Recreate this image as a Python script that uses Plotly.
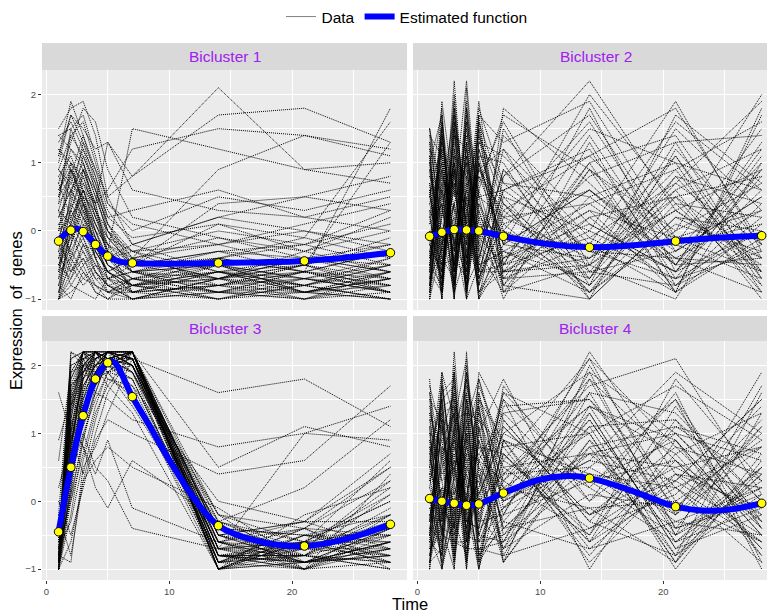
import plotly.graph_objects as go

# ---------------- data ----------------
time_points = [1, 2, 3, 4, 5, 7, 14, 21, 28]
panel_titles = ["Bicluster 1", "Bicluster 2", "Bicluster 3", "Bicluster 4"]

genes_b1 = [
    [-1.0, 0.2, 0.5, -0.3, -0.6, -0.9, -0.8, -0.7, -0.9],
    [0.5, 1.2, 1.0, 0.3, -0.2, -0.5, -0.4, -0.6, -0.3],
    [1.3, 1.6, 1.2, 0.6, 0.1, -0.3, -0.2, 0.1, 0.4],
    [-0.5, -0.2, 0.3, 0.0, -0.4, -0.7, -0.9, -0.8, -1.0],
    [0.0, 0.8, 1.4, 0.9, 0.3, -0.2, -0.6, -0.5, -0.7],
    [-0.8, -1.0, -0.6, -0.8, -0.9, -1.0, -0.7, -0.9, -0.8],
    [1.5, 1.8, 1.9, 1.4, 0.5, 0.8, 2.1, 0.9, 1.0],
    [0.3, 0.1, -0.2, -0.5, -0.7, -0.6, -0.3, -0.2, 0.1],
    [-0.3, 0.5, 0.2, -0.4, -0.8, -1.0, -0.9, -1.0, -0.9],
    [0.9, 1.4, 1.6, 1.0, 0.4, 0.0, 0.5, 0.3, 0.6],
    [-1.0, -0.6, -0.3, -0.7, -0.9, -0.8, -0.6, -0.7, -0.5],
    [0.6, 0.9, 0.4, 0.0, -0.5, -0.7, -0.8, -0.5, -0.2],
    [-0.2, 0.3, 0.8, 0.2, -0.3, -0.6, -0.5, -0.9, -0.6],
    [1.0, 1.7, 1.5, 1.2, 1.3, 0.8, 1.7, 1.8, 1.3],
    [-0.6, -0.4, -0.1, -0.5, -0.6, -0.9, -1.0, -0.8, -1.0],
    [0.2, 0.6, 1.0, 0.5, 0.0, -0.4, 0.9, 1.4, 1.1],
    [-0.9, -0.5, 0.0, -0.2, -0.5, -0.8, -0.7, -0.6, 1.8],
    [0.8, 1.1, 0.6, 0.1, -0.3, 1.5, 1.2, 0.9, 0.7],
    [-0.4, 0.0, -0.3, -0.6, -0.8, -0.9, -0.6, -0.4, -0.7],
    [0.1, -0.3, -0.6, -0.9, -1.0, -1.0, -0.8, -0.9, -0.6],
    [1.2, 1.0, 0.7, 0.2, -0.1, -0.3, 0.0, -0.2, 0.3],
    [-1.0, -0.8, -0.9, -1.0, -0.7, -0.5, -0.3, -0.4, -0.2],
    [0.4, 0.7, 1.2, 0.8, 0.2, 0.3, 0.6, 0.2, 0.0],
    [-0.7, -0.2, 0.4, 0.1, -0.2, -0.6, -0.4, -0.1, -0.4],
    [0.7, 1.3, 1.8, 1.6, 0.9, 0.2, -0.1, -0.4, -0.5],
    [-0.1, 0.4, 0.1, -0.1, -0.4, -0.2, 0.2, 0.0, -0.3],
    [1.4, 1.5, 1.0, 0.5, 0.0, -0.6, -0.5, -0.7, -0.8],
    [-0.5, -0.7, -0.4, -0.8, -1.0, -0.8, -1.0, -0.7, -0.9],
    [0.0, 0.2, 0.6, 0.4, 0.6, 1.2, 1.5, 1.4, 1.2],
    [-0.8, 0.0, -0.5, -0.3, -0.6, -0.4, -0.2, -0.5, -0.1],
    [0.5, 0.8, 0.3, -0.4, -0.9, -0.7, -0.9, -0.6, -0.8],
    [-0.3, -0.1, 0.5, 0.3, -0.1, -0.5, 0.4, 0.5, 0.8],
    [0.9, 0.6, 0.2, -0.2, -0.6, -0.8, -0.7, -1.0, -0.7],
    [-0.6, 0.1, 0.7, 0.4, 1.3, 0.6, 0.3, 0.2, 0.5],
    [1.1, 1.7, 1.3, 0.7, 0.2, -0.1, 0.1, -0.1, 1.6],
    [-1.0, -0.9, -0.7, -0.5, -0.8, -1.0, -0.9, -1.0, -0.6],
    [0.3, 0.9, 0.5, 0.0, -0.2, -0.4, -0.7, -0.3, 0.0],
    [-0.2, -0.5, -0.8, -0.6, -0.9, -0.7, -0.5, -0.8, -0.4],
    [0.6, 1.0, 0.8, 0.3, 0.0, -0.3, -0.6, -0.9, -1.0],
    [-0.4, 0.3, 0.0, -0.4, -0.3, -0.6, -0.8, -0.6, -0.3],
    [-1.0, -0.4, 0.2, -0.1, -0.5, -0.8, -1.0, -0.9, -1.0],
    [0.2, 0.6, 0.9, 0.4, -0.3, -0.9, -0.6, -0.8, -0.5],
    [-0.7, 0.4, 1.1, 0.6, 0.1, -0.4, -0.7, -0.4, -0.6],
    [1.4, 1.2, 0.9, 0.4, -0.4, -0.6, -0.9, -0.7, -0.9],
    [-0.9, -0.3, 0.1, -0.4, -0.7, -0.9, -0.5, -0.9, -0.7],
    [0.5, 1.4, 1.1, 0.7, 0.0, -0.5, -0.3, -0.6, -0.9],
    [-0.1, -0.6, -0.2, -0.3, -0.6, -0.8, -0.9, -0.6, -0.7],
    [0.8, 0.5, 1.3, 0.9, 0.5, -0.2, 0.2, 0.5, 0.3],
    [-0.5, 0.1, 0.6, 0.2, -0.2, -0.9, -0.8, -1.0, -0.8],
    [1.1, 1.9, 1.4, 0.8, 0.1, -0.5, -0.7, -0.4, -0.6],
    [-0.3, -0.8, -0.5, -0.9, -1.0, -0.7, -0.6, -0.8, -0.5],
    [0.0, 1.0, 0.4, -0.3, -0.6, -0.8, -0.4, -0.2, -0.5],
    [-0.8, -0.2, 0.9, 0.3, -0.4, -0.3, -0.8, -0.5, -0.9],
    [0.7, 0.2, -0.1, -0.6, -0.8, -1.0, -0.7, -0.8, -1.0],
    [-0.6, 0.6, 0.3, -0.2, -0.7, -0.6, -0.9, -0.9, -0.7],
    [0.4, 1.5, 1.7, 1.1, 0.4, 0.1, -0.2, 0.0, -0.2],
    [-1.0, -0.7, -0.2, -0.6, -0.8, -0.7, -0.4, -0.6, -0.8],
    [0.9, 0.7, 0.5, -0.1, -0.5, -0.7, -1.0, -0.8, -0.6],
    [-0.2, 0.9, 0.6, 0.0, -0.4, -0.8, -0.5, -0.7, -0.4],
    [0.3, -0.4, -0.7, -0.8, -0.9, -0.9, -0.8, -0.6, -0.9],
    [-0.5, -0.1, 0.4, -0.2, -0.6, -0.4, -0.1, -0.3, -0.6],
    [1.2, 0.9, 0.4, -0.1, -0.7, -0.8, -0.6, -0.9, -0.7],
    [-0.9, 0.0, 0.6, 0.1, -0.3, -0.6, -0.7, -0.5, 1.3],
    [0.1, 0.3, 0.9, 0.6, -0.1, -0.5, 0.1, -0.3, 0.2],
    [-0.4, -0.6, -0.4, -0.7, -0.7, -1.0, -0.7, -0.5, -0.8],
]

genes_b2 = [
    [1.2, -0.8, 1.6, -0.5, 1.0, -0.2, 0.6, -0.4, 0.3],
    [-0.9, 1.5, -0.6, 1.8, -0.7, 0.4, -1.0, 1.2, -0.2],
    [0.3, -1.0, 0.9, -0.9, 1.4, -0.5, 1.8, -0.6, 0.8],
    [-0.5, 0.7, -1.0, 2.1, -0.3, 1.2, -0.8, 0.5, -0.9],
    [0.8, 0.2, 1.9, -0.4, 0.5, -0.9, 0.9, -0.2, 1.5],
    [-0.2, -0.6, 0.4, 1.0, -1.0, 0.8, 2.2, 0.3, -0.5],
    [1.4, 1.1, -0.3, 0.2, 1.9, -0.7, -0.2, 1.6, 0.6],
    [-1.0, 0.3, 1.3, -1.0, 0.7, 1.6, -0.5, -1.0, 1.0],
    [0.5, 1.8, -0.8, 0.6, -0.5, -0.3, 0.4, 0.9, -0.7],
    [-0.7, -0.3, 2.2, -0.2, 1.2, 0.1, -0.9, 0.0, 2.0],
    [0.1, 0.9, 0.0, 1.5, 0.2, -1.0, 1.3, -0.8, 0.2],
    [1.0, -0.5, -0.4, -0.7, 1.6, 0.5, 0.0, 1.9, -0.3],
    [-0.4, 1.3, 0.6, 0.4, -0.8, 1.8, 0.7, -0.5, 1.3],
    [0.7, -0.9, 1.4, 1.2, 0.0, -0.6, -0.4, 0.6, -1.0],
    [-0.8, 0.0, -0.9, -0.3, 0.9, 0.2, 1.6, -0.3, 0.5],
    [1.5, 0.5, 0.7, -0.8, -0.4, 0.9, -0.7, 1.1, -0.6],
    [0.0, -0.7, 1.1, 0.8, -0.9, -0.4, 0.3, -0.9, 1.7],
    [-0.6, 1.6, -0.2, -0.6, 1.1, 1.0, -1.0, 0.2, 0.0],
    [0.4, -0.4, -0.7, 1.7, 0.3, -0.8, 1.0, 1.4, -0.4],
    [-0.3, 0.6, 1.7, 0.0, -0.6, 0.6, -0.3, -0.7, 0.9],
    [0.9, -0.2, 0.2, -0.5, 1.5, -0.2, 2.0, 0.4, -0.8],
    [-1.0, 1.0, -0.5, 0.9, -0.2, 1.4, 0.1, -0.6, 1.1],
    [0.6, -0.6, 0.8, -0.9, 0.4, -0.7, -0.6, 0.8, 0.4],
    [-0.1, 0.4, -1.0, 1.3, -0.7, 0.3, 1.1, -0.1, -0.1],
    [1.1, -1.0, 1.2, 0.1, 0.8, -0.1, -0.8, 1.7, 0.7],
    [-0.9, 0.8, 0.3, -0.2, 1.8, 0.7, 0.5, -0.4, -0.9],
    [0.2, 1.2, -0.6, 0.5, -0.1, -0.5, -0.1, 0.7, 1.9],
    [-0.5, -0.8, 2.0, -0.1, 0.6, 1.7, 0.9, -0.9, 0.1],
    [1.3, 0.1, -0.1, -1.0, -0.5, -0.3, -0.9, 0.1, -0.3],
    [-0.7, 1.9, 0.5, 2.2, 0.1, 0.0, 1.5, 1.0, 0.6],
    [0.0, -0.5, 1.0, -0.4, 1.3, 1.1, -0.2, -0.2, -0.7],
    [0.8, 0.6, -0.9, 0.7, -1.0, -0.4, 0.8, 1.3, 1.4],
    [-0.3, -0.9, 1.5, 0.3, 0.9, 0.4, -0.6, -0.8, -0.2],
    [1.5, 0.3, -0.3, 1.1, -0.3, -0.9, 0.2, 0.5, 0.8],
    [-0.6, 1.4, 0.1, -0.8, 1.7, 1.3, 1.9, -0.1, -0.6],
    [0.5, -0.3, 1.8, 0.2, -0.9, -0.6, -0.5, 1.5, 0.3],
    [-0.8, 0.5, -0.4, 1.6, 0.5, 0.2, 0.4, -0.5, 1.2],
    [0.3, -0.1, 0.4, -0.6, 0.3, -0.8, -1.0, 0.2, -0.4],
    [1.0, 1.7, -0.7, 0.3, -0.6, 0.6, 1.2, -0.7, 0.0],
    [-0.2, -0.7, 0.9, -0.3, 1.0, -0.2, -0.4, 0.9, 1.6],
    [0.9, -0.9, 1.1, -0.7, 1.2, 0.0, -0.5, 0.3, -0.6],
    [-0.8, 1.2, -0.5, 1.3, -0.6, -0.6, 0.2, -0.8, 0.4],
    [1.3, -0.6, 1.5, -0.8, 0.8, 0.3, -0.7, 0.7, -0.2],
    [-0.6, 0.9, -0.8, 1.6, -0.9, -0.2, 0.6, -0.3, 1.0],
    [0.6, -1.0, 1.8, -0.6, 1.6, -0.5, 1.4, -0.5, -0.4],
    [-1.0, 1.4, -0.3, 1.1, -0.4, 0.9, -0.3, 1.1, -0.8],
    [1.1, -0.4, 0.9, -1.0, 1.1, -0.4, 0.1, -0.6, 0.6],
    [-0.4, 1.7, -0.9, 0.8, -0.8, 0.5, -0.9, 0.4, 0.2],
    [0.2, -0.8, 1.2, -0.2, 1.5, -0.8, 0.5, 1.0, -0.9],
    [-0.9, 0.6, -0.2, 1.9, -0.5, 1.5, -0.6, -0.3, 0.5],
    [1.4, -0.2, 0.6, -0.5, 0.6, -0.6, 1.0, -0.9, -0.1],
    [-0.5, 1.1, -0.6, 0.5, -1.0, 0.0, -0.8, 0.6, 1.2],
    [0.7, -0.7, 1.6, -0.9, 1.3, 0.7, -0.3, -0.4, -0.5],
    [-0.2, 1.5, -1.0, 1.4, -0.2, -0.7, 0.9, 0.0, 0.7],
    [1.0, -0.3, 0.4, -0.4, 0.9, 1.2, -0.1, -0.7, -0.3],
    [-0.7, 0.2, 1.0, -0.7, 0.4, -0.3, -0.7, 1.3, -0.7],
    [0.4, 1.0, -0.5, 1.0, -0.7, 0.1, 0.6, -0.5, 0.9],
    [-1.0, -0.2, 1.4, 0.1, 1.7, -0.9, -0.5, 0.5, -0.4],
    [1.2, 0.8, -0.6, 1.2, -0.1, 0.8, 1.7, -0.2, 0.1],
    [-0.3, -0.5, 0.7, -0.8, 0.2, -0.1, -0.2, -0.9, 1.8],
    [0.5, 1.3, -0.2, 0.6, 1.4, 0.4, -0.9, 0.8, -0.6],
    [-0.6, -0.9, 1.7, 0.4, -0.6, -0.5, 0.3, -0.1, 0.3],
    [0.1, 0.4, -0.8, 1.8, 0.5, 0.6, 1.1, 1.8, -0.2],
    [-0.8, 1.6, 0.3, -0.9, 1.0, -0.6, 0.0, -0.6, 0.0],
    [1.5, -0.1, 1.0, 0.0, -0.8, 0.2, -0.4, 0.3, 0.9],
]

genes_b3 = [
    [-1.0, 0.8, 1.9, 2.1, 2.2, 2.1, -0.8, -0.9, -0.6],
    [-0.8, 1.2, 2.2, 2.0, 2.1, 1.9, -0.5, -0.7, -0.3],
    [-0.9, 0.2, 1.5, 1.9, 2.2, 2.2, -1.0, -0.6, -0.8],
    [-0.6, 1.6, 2.0, 2.2, 2.1, 2.0, -0.3, -0.8, 0.1],
    [-1.0, -0.2, 0.9, 1.7, 2.0, 2.2, -0.7, -1.0, -0.9],
    [-0.5, 0.5, 1.3, 2.1, 2.2, 1.6, -0.9, -0.5, -0.2],
    [-1.0, 2.2, 2.1, 1.8, 1.9, 1.4, -0.6, -0.9, -0.7],
    [-0.7, 0.0, 0.7, 1.4, 1.9, 2.2, -0.2, -0.4, 0.3],
    [0.2, 0.9, 1.6, 2.2, 2.0, 1.8, -0.8, -0.7, -0.5],
    [-0.9, 1.8, 2.2, 1.9, 2.1, 2.1, -1.0, -0.8, -1.0],
    [1.6, 1.0, 0.4, 1.2, 1.8, 1.7, 0.0, -0.3, 0.5],
    [-1.0, -0.6, 0.3, 1.0, 1.6, 2.2, -0.5, -0.9, -0.4],
    [-0.4, 1.4, 1.8, 2.2, 2.2, 2.0, -0.9, -0.6, 0.0],
    [-1.0, 0.6, 1.1, 1.6, 2.1, 1.9, -0.4, -1.0, -0.7],
    [0.6, 1.9, 2.0, 1.6, 1.5, 1.2, 0.8, 1.0, 1.4],
    [-0.8, -0.9, 0.5, 0.8, 1.3, 2.1, -0.7, -0.8, -0.9],
    [-0.2, 2.1, 2.2, 2.1, 1.8, 1.6, -1.0, -0.5, -0.6],
    [-1.0, 0.3, 1.7, 2.0, 2.2, 2.2, -0.6, -0.3, 0.7],
    [-0.6, 1.1, 0.8, 0.2, -0.1, 0.6, -0.3, 0.2, 1.2],
    [-0.9, 0.7, 2.0, 2.2, 2.0, 1.8, -0.8, -0.9, -0.8],
    [0.9, 1.5, 1.2, 1.9, 2.2, 2.1, 1.6, 1.8, 1.1],
    [-1.0, 1.3, 2.2, 1.8, 2.1, 2.2, -0.9, -0.4, -0.5],
    [-0.7, -0.3, 0.6, 1.3, 1.7, 1.3, -1.0, -0.7, -0.2],
    [-0.3, 0.4, 1.0, 0.5, 0.3, -0.4, -0.7, 1.0, 0.9],
    [-1.0, 1.7, 1.9, 2.2, 1.9, 2.0, -0.2, -0.6, -0.9],
    [-0.8, 0.1, 1.4, 1.8, 2.2, 2.2, -0.5, -0.8, -0.1],
    [-0.5, 2.0, 2.1, 1.7, 2.0, 1.7, -0.8, -1.0, 0.4],
    [-1.0, 0.9, 1.8, 2.1, 2.1, 2.1, -0.4, -0.5, -0.7],
    [0.0, -0.5, 0.2, 0.9, 1.2, 1.0, 0.4, 0.6, 1.7],
    [-0.9, 1.5, 2.2, 2.2, 2.0, 1.9, -0.6, -0.9, -0.6],
    [-0.6, 0.7, 1.5, 2.0, 2.2, 2.2, -1.0, -0.2, 0.2],
    [-1.0, 0.0, 1.0, 1.5, 1.9, 1.5, -0.3, -0.7, -0.8],
    [-0.4, 1.2, 0.8, 0.4, 0.9, -0.1, -0.6, -0.4, -1.0],
    [-0.8, 2.2, 2.0, 2.2, 2.1, 2.0, -0.7, -0.6, -0.4],
    [-1.0, 0.5, 1.6, 1.9, 2.0, 2.2, 0.5, 1.1, 0.8],
    [-0.7, 1.0, 2.1, 2.2, 1.9, 1.8, -0.9, -0.8, -0.3],
    [-0.2, -0.8, 0.3, 0.6, 0.8, 0.5, -0.1, -0.9, -0.6],
    [-0.9, 1.6, 1.3, 1.9, 2.2, 2.1, -0.5, -0.3, -0.7],
    [-1.0, 0.2, 1.9, 2.0, 1.7, 2.2, -0.8, -0.6, 0.0],
    [-0.5, 1.9, 2.2, 2.1, 2.2, 1.9, -0.2, -1.0, -0.5],
    [-1.0, 1.0, 2.0, 2.2, 2.1, 2.2, -0.9, -0.8, -0.5],
    [-0.9, 1.4, 2.1, 2.1, 2.2, 2.0, -0.7, -0.6, -0.9],
    [-0.8, 0.6, 1.7, 2.0, 2.1, 2.2, -1.0, -0.9, -0.4],
    [-1.0, 1.9, 2.2, 2.2, 2.0, 2.1, -0.6, -0.7, -0.7],
    [-0.7, 1.1, 1.9, 2.1, 2.2, 2.2, -0.8, -1.0, -0.2],
    [-1.0, 0.4, 1.6, 2.2, 2.2, 2.0, -0.4, -0.5, -0.8],
    [-0.9, 1.7, 2.2, 2.0, 2.1, 2.2, -0.9, -0.7, 0.2],
    [-0.6, 0.8, 1.8, 2.2, 2.0, 2.1, -1.0, -0.9, -0.6],
    [-1.0, 1.5, 2.0, 1.9, 2.2, 2.2, -0.5, -0.3, -0.3],
    [-0.8, 2.1, 2.2, 2.2, 2.2, 2.1, -0.8, -0.8, -1.0],
    [-1.0, 0.9, 1.4, 1.8, 2.0, 2.2, -0.7, -0.4, 0.5],
    [-0.9, 1.2, 2.1, 2.2, 2.1, 1.9, -1.0, -0.6, -0.6],
    [-0.7, 0.3, 1.2, 1.9, 2.2, 2.2, -0.6, -0.8, -0.9],
    [-1.0, 1.8, 2.2, 2.1, 2.2, 2.0, -0.9, -1.0, -0.4],
    [-0.8, 0.7, 1.9, 2.2, 2.0, 2.2, -0.3, -0.6, 0.1],
    [-1.0, 1.3, 2.0, 2.0, 2.2, 2.1, -0.8, -0.9, -0.8],
    [-0.6, 1.6, 2.2, 2.2, 2.1, 2.2, -1.0, -0.5, -0.5],
    [-0.9, 0.5, 1.5, 2.1, 2.2, 2.0, -0.7, -0.7, 0.3],
    [-1.0, 2.0, 2.1, 2.2, 2.0, 2.2, -0.5, -0.9, -0.7],
    [-0.7, 1.0, 1.8, 2.0, 2.2, 2.1, -0.9, -0.4, -0.9],
    [-1.0, 0.1, 0.9, 1.6, 2.1, 2.2, -0.8, -0.8, -0.2],
    [-0.8, 1.4, 2.2, 2.2, 2.1, 2.0, -0.6, -1.0, -0.6],
    [-0.9, 0.8, 2.0, 2.1, 2.2, 2.2, -1.0, -0.6, 0.6],
    [-1.0, 1.7, 1.9, 2.2, 2.2, 2.1, -0.4, -0.7, -0.4],
    [-0.5, 1.1, 1.7, 2.0, 1.9, 2.2, -0.7, -0.9, -0.8],
]

genes_b4 = [
    [1.8, -0.7, 1.2, -0.9, 0.6, 0.3, 1.4, -0.5, 0.2],
    [-1.0, 1.9, -0.4, 1.5, -0.8, -0.2, 2.2, 0.4, -0.6],
    [0.5, -0.3, 1.9, -0.5, 1.9, 1.2, -0.3, 1.1, 0.7],
    [-0.6, 0.8, -1.0, 2.2, -0.2, -0.7, 0.9, -0.9, 1.3],
    [1.2, 0.0, 0.6, -1.0, 1.0, 1.8, -0.6, 0.6, -0.3],
    [-0.3, 1.4, 1.5, 0.3, -1.0, 0.4, 1.7, 2.1, 0.1],
    [0.9, -1.0, -0.2, 1.1, 1.4, -0.5, 0.5, -0.2, 1.9],
    [-0.8, 0.5, 0.9, -0.3, 0.2, 1.5, -1.0, 0.9, -0.8],
    [1.5, 1.2, -0.7, 0.7, -0.6, -0.1, 1.2, -0.6, 0.5],
    [0.0, -0.6, 2.0, -0.6, 1.5, 0.9, 0.2, 1.5, -1.0],
    [-0.5, 1.7, 0.3, 1.8, 0.4, -0.9, 2.0, 0.0, 0.9],
    [1.0, -0.4, -0.5, 0.1, -0.9, 0.7, -0.5, 1.8, 0.3],
    [0.3, 0.9, 1.3, -0.8, 1.1, -0.4, 0.8, -0.8, 1.6],
    [-0.9, -0.2, 0.0, 1.4, -0.4, 1.1, -0.2, 0.3, -0.5],
    [0.7, 1.5, -0.9, 0.5, 0.7, 0.1, 1.6, 1.3, 0.0],
    [-0.2, -0.8, 1.7, -0.2, -0.7, -0.6, 0.4, -0.4, 1.1],
    [1.4, 0.3, 0.5, 0.9, 1.7, 0.8, -0.8, 0.7, -0.7],
    [-0.7, 1.1, -0.3, 2.0, 0.0, 1.6, 1.0, -1.0, 0.6],
    [0.1, -0.9, 1.0, -0.4, 0.9, -0.2, 1.9, 1.0, -0.2],
    [-0.4, 0.6, -0.8, 0.6, -0.5, 0.5, -0.4, 0.1, 1.4],
    [1.1, -0.5, 2.2, 0.0, 1.3, -0.8, 1.3, -0.7, 0.4],
    [-1.0, 1.8, 0.2, 1.2, -0.3, 1.3, 0.0, 1.6, -0.9],
    [0.6, 0.1, -0.6, -0.7, 0.5, 0.0, 0.7, 0.5, 0.8],
    [-0.1, -0.7, 1.1, 1.6, -0.9, -0.3, -0.7, -0.3, 0.2],
    [1.7, 1.0, 0.8, -0.1, 1.8, 0.6, 2.1, 0.8, -0.4],
    [-0.8, -0.1, -0.4, 0.8, 0.1, 1.0, 0.3, -0.5, 1.7],
    [0.4, 1.3, 1.4, -0.5, -0.6, -0.5, 1.1, 1.2, 0.0],
    [-0.5, -1.0, 0.4, 1.9, 0.8, 0.2, -0.1, -0.9, 0.5],
    [1.3, 0.7, -0.1, 0.4, -0.1, 1.4, 1.5, 0.2, -0.6],
    [-0.6, 1.6, 1.8, -0.9, 1.6, -0.1, 0.6, 1.9, 1.0],
    [0.2, -0.4, -1.0, 1.0, -0.8, 0.9, -0.9, 0.4, -0.1],
    [0.8, 0.4, 0.7, 0.2, 0.3, -0.7, 0.1, -0.1, 1.2],
    [-0.3, 1.5, -0.2, 1.3, 1.2, 0.3, 1.8, 0.6, -0.8],
    [1.6, -0.2, 1.6, -0.3, -0.4, 1.7, 0.0, 1.0, 0.6],
    [-0.9, 0.2, 0.1, 0.7, 0.6, -0.3, 1.2, -0.6, 0.3],
    [0.5, 1.9, 1.2, 2.1, -0.2, 0.7, -0.6, 1.4, -0.3],
    [-0.7, -0.5, -0.6, -0.6, 1.4, -0.9, 0.9, -0.2, 0.8],
    [1.0, 0.8, 0.6, 0.5, 0.0, 0.4, 1.4, 0.9, -0.5],
    [-0.2, -0.3, 1.5, -0.1, -1.0, 1.2, -0.3, -0.8, 0.1],
    [0.3, 1.2, -0.8, 1.7, 1.0, 0.0, 0.6, 0.3, 1.5],
    [1.1, -0.8, 1.4, -0.6, 0.9, -0.4, 0.7, -0.3, -0.5],
    [-0.9, 1.3, -0.6, 1.1, -0.5, 0.6, -0.2, 0.8, 0.4],
    [0.7, -0.5, 1.0, -0.9, 1.5, 0.0, 1.3, -0.7, -0.2],
    [-0.5, 1.6, -0.9, 0.9, -0.9, 0.9, 0.4, 0.2, 0.8],
    [1.5, -0.2, 0.5, -0.4, 0.4, -0.6, 1.8, -0.4, 0.0],
    [-1.0, 0.7, 1.2, 1.3, -0.6, 0.3, -0.5, 1.2, -0.4],
    [0.4, -0.9, -0.3, -0.8, 1.2, 0.8, 1.0, -0.9, 0.7],
    [-0.3, 1.0, 1.6, 0.4, -0.3, -0.2, 0.3, 0.6, -0.7],
    [0.9, 0.3, -0.8, 1.5, 0.6, 1.3, 1.5, -0.1, 1.0],
    [-0.7, -0.4, 0.7, -0.7, -0.7, -0.8, -0.4, 0.4, 0.2],
    [1.2, 1.1, 0.1, 0.8, 1.3, 0.5, 0.7, 1.0, -0.3],
    [-0.4, -0.6, 1.9, -0.2, 0.1, 1.0, 1.9, -0.5, 0.5],
    [0.2, 1.4, -0.5, 1.9, -0.8, -0.4, -0.1, 0.0, -0.6],
    [-0.8, 0.0, 0.8, 0.0, 1.6, 0.2, 1.0, 1.7, 0.9],
    [1.6, 0.6, 1.3, -0.6, 0.2, 1.5, 0.2, -0.6, -0.1],
    [-0.6, -0.8, -0.1, 1.0, -0.5, -0.6, 1.4, 0.7, 1.3],
    [0.5, 1.7, 0.4, 0.1, 0.8, 0.7, -0.6, 0.2, -0.9],
    [-0.1, -0.1, 1.1, -1.0, 1.1, -0.9, 0.8, 1.1, 0.3],
    [1.0, 0.9, -0.4, 1.6, -0.1, 0.1, 2.1, -0.2, 1.1],
    [-0.9, -0.7, 0.9, 0.6, 0.7, 1.1, -0.2, 0.5, -0.2],
    [0.6, 1.5, 1.7, -0.3, -0.4, -0.1, 1.1, -0.8, 0.4],
    [-0.2, 0.2, -0.9, 1.2, 1.8, 0.4, 0.5, 1.5, -0.4],
    [1.3, -0.3, 0.6, 0.3, -1.0, 0.9, -0.7, 0.3, 1.5],
    [-0.5, 1.2, 1.0, 1.8, 0.5, -0.7, 1.6, -0.4, 0.1],
    [0.8, -1.0, 0.2, -0.1, 0.3, 1.6, 0.3, 0.9, -0.5],
]

# estimated function at the time points (yellow dots)
est_b1 = [-0.15, 0.01, -0.01, -0.20, -0.37, -0.47, -0.47, -0.44, -0.32]
est_b2 = [-0.08, -0.02, 0.02, 0.015, 0.00, -0.08, -0.24, -0.15, -0.07]
est_b3 = [-0.45, 0.50, 1.26, 1.80, 2.04, 1.54, -0.36, -0.66, -0.34]
est_b4 = [0.04, 0.00, -0.03, -0.06, -0.04, 0.12, 0.34, -0.08, -0.03]

# smooth estimated curve
curve_t_b1 = [1, 1.5, 2, 2.5, 3, 4, 5, 6, 7, 10, 14, 17.5, 21, 24.5, 28]
curve_b1 = [-0.15, -0.05, 0.01, 0.03, -0.01, -0.20, -0.37, -0.45, -0.47, -0.48, -0.47, -0.46, -0.44, -0.39, -0.32]
curve_t_b2 = [1, 2, 3, 4, 5, 7, 10.5, 14, 17.5, 21, 24.5, 28]
curve_b2 = [-0.08, -0.02, 0.02, 0.015, 0.00, -0.08, -0.19, -0.24, -0.21, -0.15, -0.10, -0.07]
curve_t_b3 = [1, 2, 3, 4, 5, 5.5, 7, 8.5, 10, 12, 14, 17.5, 21, 24.5, 28]
curve_b3 = [-0.45, 0.50, 1.26, 1.80, 2.04, 2.05, 1.54, 1.08, 0.61, 0.05, -0.36, -0.60, -0.66, -0.55, -0.34]
curve_t_b4 = [1, 2, 3, 4, 5, 7, 10, 12.2, 14, 17.5, 21, 23.6, 25.5, 28]
curve_b4 = [0.04, 0.00, -0.03, -0.06, -0.04, 0.12, 0.32, 0.37, 0.34, 0.15, -0.08, -0.14, -0.12, -0.03]

x_ticks = [0, 10, 20]
y_ticks = [-1, 0, 1, 2]
y_tick_labels = ["\u22121", "0", "1", "2"]

genes_all = [genes_b1, genes_b2, genes_b3, genes_b4]
est_all = [est_b1, est_b2, est_b3, est_b4]
curve_t_all = [curve_t_b1, curve_t_b2, curve_t_b3, curve_t_b4]
curve_all = [curve_b1, curve_b2, curve_b3, curve_b4]

# ---------------- figure ----------------
FONT = "Liberation Sans, Arial, Helvetica, sans-serif"
W, H = 767, 613
ML, MR, MT, MB = 42, 0, 43, 33
PW, PH = W - ML - MR, H - MT - MB


def px_x(p):
    # window pixel x -> paper x
    return (p - ML) / PW


def px_y(p):
    # window pixel y -> paper y
    return (H - MB - p) / PH


dom_x = [[0, px_x(407)], [px_x(413), 1]]
dom_y_top = [px_y(310), px_y(70)]
dom_y_bot = [0, px_y(341)]

fig = go.Figure()

for i in range(4):
    xa = "x" if i == 0 else f"x{i+1}"
    ya = "y" if i == 0 else f"y{i+1}"
    xs, ys = [], []
    for g in genes_all[i]:
        xs += time_points + [None]
        ys += g + [None]
    fig.add_trace(go.Scatter(
        x=xs, y=ys, mode="lines", xaxis=xa, yaxis=ya,
        line=dict(color="black", width=1.0, dash="1px,1px"),
        name="Data", legendgroup="data", showlegend=(i == 0),
        hoverinfo="skip",
    ))
for i in range(4):
    xa = "x" if i == 0 else f"x{i+1}"
    ya = "y" if i == 0 else f"y{i+1}"
    fig.add_trace(go.Scatter(
        x=curve_t_all[i], y=curve_all[i], mode="lines", xaxis=xa, yaxis=ya,
        line=dict(color="#0000FF", width=6, shape="spline", smoothing=1.0),
        name="Estimated function", legendgroup="est", showlegend=(i == 0),
    ))
    fig.add_trace(go.Scatter(
        x=time_points, y=est_all[i], mode="markers", xaxis=xa, yaxis=ya,
        marker=dict(color="#FFFF00", size=8.5, line=dict(color="black", width=1)),
        showlegend=False, cliponaxis=False,
    ))

axis_common = dict(
    showgrid=True, gridcolor="white", gridwidth=1.2,
    zeroline=False, showline=False,
    tickfont=dict(family=FONT, size=9.5, color="#4D4D4D"),
    tickcolor="#333333", ticklen=3, tickwidth=1,
)
layout = dict(
    width=W, height=H,
    margin=dict(l=ML, r=MR, t=MT, b=MB, autoexpand=False),
    paper_bgcolor="white", plot_bgcolor="#EBEBEB",
    font=dict(family=FONT, color="black"),
    showlegend=True,
    legend=dict(orientation="h", x=px_x(407), xanchor="center",
                y=px_y(17), yanchor="middle",
                font=dict(family=FONT, size=15.5, color="black"),
                bgcolor="rgba(0,0,0,0)", itemwidth=30),
)
for i in range(4):
    xk = "xaxis" if i == 0 else f"xaxis{i+1}"
    yk = "yaxis" if i == 0 else f"yaxis{i+1}"
    col = i % 2
    row = i // 2
    xr = [-0.35, 29.35] if col == 0 else [-0.35, 28.43]
    layout[xk] = dict(axis_common, domain=dom_x[col], range=xr,
                      anchor="y" if i == 0 else f"y{i+1}",
                      tickmode="array", tickvals=x_ticks,
                      showticklabels=(row == 1), ticks="outside" if row == 1 else "",
                      minor=dict(tickmode="array", tickvals=[5, 15, 25], showgrid=True,
                                 gridcolor="white", gridwidth=0.6, ticks=""))
    layout[yk] = dict(axis_common, domain=dom_y_top if row == 0 else dom_y_bot,
                      range=[-1.16, 2.36],
                      anchor="x" if i == 0 else f"x{i+1}",
                      tickmode="array", tickvals=y_ticks, ticktext=y_tick_labels,
                      showticklabels=(col == 0), ticks="outside" if col == 0 else "",
                      minor=dict(tickmode="array", tickvals=[-0.5, 0.5, 1.5], showgrid=True,
                                 gridcolor="white", gridwidth=0.6, ticks=""))
fig.update_layout(**layout)

# facet strips
shapes, annots = [], []
strip_y = [[px_y(70), px_y(43)], [px_y(341), px_y(316)]]
for i in range(4):
    col, row = i % 2, i // 2
    x0, x1 = dom_x[col]
    y0, y1 = strip_y[row]
    shapes.append(dict(type="rect", xref="paper", yref="paper", x0=x0, x1=x1, y0=y0, y1=y1,
                       fillcolor="#D9D9D9", line=dict(width=0), layer="below"))
    xc = (px_x(42) + px_x(407)) / 2 if col == 0 else (px_x(413) + px_x(778)) / 2
    annots.append(dict(text=panel_titles[i], xref="paper", yref="paper", x=xc, y=(y0 + y1) / 2,
                       xanchor="center", yanchor="middle", showarrow=False,
                       font=dict(family=FONT, size=15.5, color="#A020F0")))

annots.append(dict(text="Time", xref="paper", yref="paper", x=px_x(410), y=px_y(604),
                   xanchor="center", yanchor="middle", showarrow=False,
                   font=dict(family=FONT, size=16.5, color="black")))
annots.append(dict(text="Expression\u00a0 of\u00a0 genes", xref="paper", yref="paper",
                   x=px_x(16), y=px_y(311), textangle=-90,
                   xanchor="center", yanchor="middle", showarrow=False,
                   font=dict(family=FONT, size=16.5, color="black")))
fig.update_layout(shapes=shapes, annotations=annots)

# the page has no body margin, so the 767x613 figure fills the window exactly
fig.write_html(
    "out.html",
    config={"displayModeBar": False},
    post_script="document.body.style.margin='0px';"
                "document.documentElement.style.overflow='hidden';",
)
